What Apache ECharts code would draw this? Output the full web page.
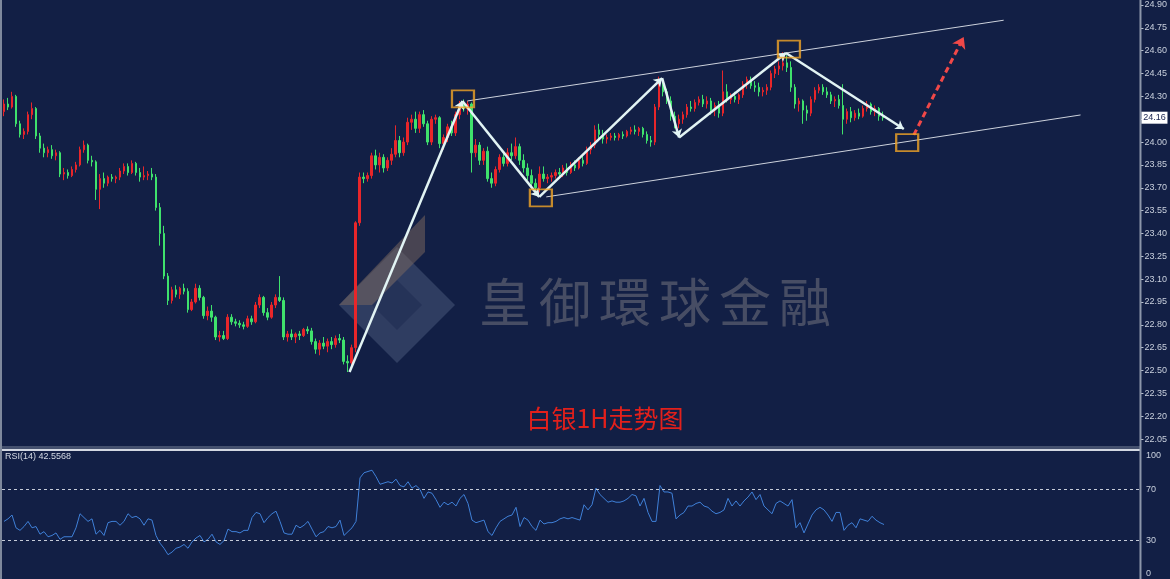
<!DOCTYPE html>
<html><head><meta charset="utf-8">
<script src="https://cdn.jsdelivr.net/npm/echarts@6/dist/echarts.min.js"></script>
<style>html,body{margin:0;padding:0;background:#121f45;}#c{width:1170px;height:579px;}</style>
</head><body><div id="c"></div>
<script>
// ---- data: each candle = [open, close, low, high] ----
const candles = [
[24.20,24.25,24.17,24.28],[24.25,24.23,24.21,24.29],[24.23,24.30,24.22,24.33],[24.30,24.12,24.10,24.31],[24.12,24.05,24.03,24.14],
[24.05,24.07,24.02,24.09],[24.07,24.18,24.05,24.20],[24.18,24.22,24.15,24.26],[24.22,24.04,24.02,24.23],[24.04,23.96,23.93,24.06],
[23.96,23.93,23.90,23.99],[23.93,23.95,23.90,23.97],[23.95,23.91,23.89,23.98],[23.91,23.93,23.88,23.95],[23.93,23.79,23.77,23.94],
[23.79,23.80,23.75,23.83],[23.80,23.78,23.76,23.82],[23.78,23.82,23.77,23.84],[23.82,23.85,23.80,23.87],[23.85,23.95,23.84,23.97],
[23.95,23.98,23.93,24.01],[23.98,23.88,23.86,23.99],[23.88,23.87,23.84,23.91],[23.87,23.69,23.62,23.88],[23.69,23.76,23.56,23.79],
[23.76,23.73,23.70,23.80],[23.73,23.77,23.71,23.78],[23.77,23.76,23.74,23.79],[23.76,23.77,23.73,23.78],[23.77,23.81,23.75,23.83],
[23.81,23.84,23.79,23.86],[23.84,23.80,23.78,23.86],[23.80,23.86,23.79,23.88],[23.86,23.80,23.78,23.87],[23.80,23.77,23.74,23.83],
[23.77,23.78,23.75,23.84],[23.78,23.79,23.75,23.81],[23.79,23.77,23.75,23.83],[23.77,23.57,23.55,23.79],[23.57,23.40,23.32,23.60],
[23.40,23.12,23.10,23.45],[23.12,22.96,22.93,23.14],[22.96,23.03,22.94,23.05],[23.03,23.00,22.98,23.06],[23.00,23.04,22.97,23.05],
[23.04,23.02,23.00,23.07],[23.02,22.90,22.88,23.04],[22.90,22.95,22.89,22.97],[22.95,23.04,22.94,23.07],[23.04,22.98,22.96,23.06],
[22.98,22.86,22.84,22.99],[22.86,22.89,22.83,22.92],[22.89,22.85,22.82,22.93],[22.85,22.72,22.70,22.86],[22.72,22.73,22.69,22.76],
[22.73,22.71,22.70,22.76],[22.71,22.85,22.70,22.87],[22.85,22.82,22.80,22.87],[22.82,22.81,22.79,22.84],[22.81,22.80,22.78,22.83],
[22.80,22.79,22.77,22.82],[22.79,22.84,22.78,22.86],[22.84,22.82,22.80,22.86],[22.82,22.93,22.81,22.95],[22.93,22.98,22.91,23.00],
[22.98,22.88,22.86,22.99],[22.88,22.85,22.83,22.91],[22.85,22.93,22.84,22.95],[22.93,22.98,22.91,23.00],[22.98,22.96,22.95,23.12],
[22.96,22.72,22.70,22.98],[22.72,22.74,22.69,22.76],[22.74,22.72,22.70,22.77],[22.72,22.74,22.68,22.75],[22.74,22.73,22.70,22.76],
[22.73,22.77,22.72,22.78],[22.77,22.76,22.74,22.79],[22.76,22.69,22.67,22.78],[22.69,22.64,22.61,22.71],[22.64,22.68,22.60,22.70],
[22.68,22.66,22.64,22.72],[22.66,22.69,22.62,22.71],[22.69,22.67,22.64,22.72],[22.67,22.71,22.65,22.73],[22.71,22.70,22.68,22.74],
[22.70,22.56,22.54,22.72],[22.56,22.55,22.49,22.60],[22.55,22.65,22.53,22.67],[22.65,23.47,22.62,23.48],[23.47,23.77,23.45,23.80],
[23.77,23.76,23.73,23.80],[23.76,23.78,23.74,23.80],[23.78,23.91,23.76,23.93],[23.91,23.85,23.82,23.95],[23.85,23.90,23.80,23.93],
[23.90,23.83,23.80,23.92],[23.83,23.88,23.81,23.90],[23.88,23.92,23.85,23.96],[23.92,24.01,23.90,24.11],[24.01,23.93,23.90,24.04],
[23.93,24.00,23.91,24.03],[24.00,24.13,23.98,24.16],[24.13,24.15,24.08,24.18],[24.15,24.09,24.06,24.20],[24.09,24.18,24.06,24.20],
[24.18,24.12,24.10,24.21],[24.12,24.00,23.98,24.14],[24.00,24.15,23.98,24.17],[24.15,24.16,24.12,24.18],[24.16,23.99,23.96,24.17],
[23.99,24.03,23.95,24.05],[24.03,24.10,24.00,24.12],[24.10,24.06,24.04,24.14],[24.06,24.18,24.04,24.20],[24.18,24.24,24.15,24.27],
[24.24,24.22,24.20,24.28],[24.22,24.25,24.18,24.27],[24.25,23.93,23.80,24.26],[23.93,23.98,23.90,24.02],[23.98,23.88,23.85,24.00],
[23.88,23.94,23.85,23.96],[23.94,23.76,23.74,23.97],[23.76,23.73,23.70,23.80],[23.73,23.82,23.71,23.84],[23.82,23.90,23.80,23.92],
[23.90,23.86,23.84,23.93],[23.86,23.93,23.84,23.96],[23.93,23.91,23.88,23.99],[23.91,23.97,23.89,24.03],[23.97,23.88,23.85,23.99],
[23.88,23.83,23.80,23.92],[23.83,23.78,23.75,23.86],[23.78,23.73,23.70,23.82],[23.73,23.70,23.66,23.76],[23.70,23.79,23.67,23.84],
[23.79,23.76,23.74,23.84],[23.76,23.77,23.73,23.79],[23.77,23.78,23.74,23.80],[23.78,23.80,23.76,23.82],[23.80,23.79,23.77,23.83],
[23.79,23.83,23.77,23.85],[23.83,23.80,23.78,23.86],[23.80,23.85,23.79,23.87],[23.85,23.83,23.81,23.88],[23.83,23.88,23.82,23.90],
[23.88,23.86,23.84,23.91],[23.86,23.95,23.85,23.97],[23.95,23.98,23.92,24.00],[23.98,24.08,23.96,24.11],[24.08,24.05,24.02,24.12],
[24.05,24.02,23.99,24.08],[24.02,24.03,23.99,24.05],[24.03,24.04,24.01,24.06],[24.04,24.03,24.01,24.06],[24.03,24.05,24.01,24.06],
[24.05,24.04,24.02,24.07],[24.04,24.07,24.03,24.08],[24.07,24.08,24.05,24.10],[24.08,24.07,24.05,24.11],[24.07,24.09,24.04,24.10],
[24.09,24.05,24.03,24.10],[24.05,24.01,23.99,24.07],[24.01,24.00,23.97,24.04],[24.00,24.23,23.98,24.25],[24.23,24.38,24.21,24.43],
[24.38,24.33,24.30,24.40],[24.33,24.27,24.25,24.35],[24.27,24.17,24.14,24.30],[24.17,24.12,24.09,24.20],[24.12,24.15,24.09,24.18],
[24.15,24.18,24.12,24.20],[24.18,24.23,24.16,24.25],[24.23,24.22,24.20,24.27],[24.22,24.26,24.20,24.28],[24.26,24.28,24.24,24.30],
[24.28,24.25,24.23,24.31],[24.25,24.27,24.22,24.30],[24.27,24.21,24.18,24.29],[24.21,24.24,24.17,24.26],[24.24,24.19,24.16,24.27],
[24.19,24.33,24.17,24.47],[24.33,24.28,24.26,24.38],[24.28,24.30,24.25,24.32],[24.30,24.28,24.26,24.33],[24.28,24.31,24.25,24.32],
[24.31,24.38,24.29,24.40],[24.38,24.41,24.35,24.43],[24.41,24.37,24.35,24.43],[24.37,24.36,24.33,24.40],[24.36,24.33,24.30,24.39],
[24.33,24.34,24.30,24.36],[24.34,24.36,24.31,24.38],[24.36,24.45,24.34,24.47],[24.45,24.48,24.42,24.50],[24.48,24.50,24.44,24.53],
[24.50,24.52,24.47,24.59],[24.52,24.49,24.46,24.57],[24.49,24.36,24.33,24.53],[24.36,24.25,24.22,24.38],[24.25,24.27,24.20,24.29],
[24.27,24.21,24.12,24.28],[24.21,24.19,24.14,24.24],[24.19,24.28,24.17,24.30],[24.28,24.34,24.26,24.36],[24.34,24.36,24.32,24.38],
[24.36,24.33,24.31,24.38],[24.33,24.31,24.29,24.36],[24.31,24.27,24.25,24.33],[24.27,24.28,24.23,24.30],[24.28,24.24,24.22,24.31],
[24.24,24.15,24.05,24.38],[24.15,24.20,24.12,24.22],[24.20,24.16,24.13,24.23],[24.16,24.19,24.14,24.21],[24.19,24.17,24.15,24.22],
[24.17,24.22,24.16,24.24],[24.22,24.25,24.20,24.27],[24.25,24.20,24.18,24.26],[24.20,24.22,24.17,24.24],[24.22,24.17,24.14,24.23],
[24.17,24.16,24.14,24.20]
];
const rsi = [
45,47,50,40,38,41,45,40,41,35,37,33,34,36,31,33,33,33,40,51,
48,45,47,35,38,34,44,45,45,42,45,51,48,49,47,42,47,46,34,28,
24,19,21,24,25,27,24,29,32,34,29,31,35,29,27,30,39,37,37,36,
38,38,48,52,51,44,48,51,53,45,36,35,35,42,40,42,45,39,33,36,
37,41,40,41,46,34,37,40,45,79,83,84,85,80,74,75,76,75,78,73,
72,76,71,73,70,63,68,67,62,56,60,58,60,57,63,66,59,46,44,45,
46,37,34,40,45,47,49,50,56,41,48,46,41,38,46,43,44,44,45,47,
48,47,48,47,46,58,54,58,71,66,63,60,61,60,60,61,63,66,65,57,
63,52,45,45,73,68,68,67,47,50,52,57,57,59,60,57,56,53,51,52,
54,63,57,61,57,61,64,68,62,66,57,54,51,59,61,59,57,62,40,44,
36,43,50,54,56,54,50,45,52,52,38,42,44,40,47,46,45,49,46,44,
42.5568
];
const slotCount = 285;                       // bar slots across the main panel
const priceAxis = {min: 21.90, max: 24.9328, step: 0.15};
const rsiTickLabels = [0, 30, 70, 100];
const rsiLevels = [70, 30];
// annotation points in data space: [bar index, price]
const zigzag = [[86.5,22.49],[114.75,24.27],[134,23.64],[164.75,24.42],[169,24.03],[195.75,24.585],[225.25,24.086]];
const channelUpper = [[116,24.27],[250.25,24.80]];
const channelLower = [[135.75,23.64],[269.5,24.178]];
const forecast = [[227.75,24.047],[240.25,24.69]];
const boxes = [[114.9,24.283],[134.4,23.633],[196.5,24.611],[226.1,23.997]];
const titleText = '白银1H走势图';
const rsiTitle = 'RSI(14) 42.5568';
const watermarkText = '皇御環球金融';

const BG = '#121f45';
const UP = '#e8262a', DOWN = '#3fe26c';
const cats = Array.from({length: slotCount}, (_, i) => String(i));
const chart = echarts.init(document.getElementById('c'), null, {renderer: 'canvas'});

const zigSegs = [];
for (let k = 0; k + 1 < zigzag.length; k++) zigSegs.push({coords: [zigzag[k], zigzag[k + 1]]});

chart.setOption({
  backgroundColor: BG,
  animation: false,
  grid: [
    {left: 2, right: 28, top: 0, bottom: 117.1},
    {left: 2, right: 28, top: 451, bottom: 0}
  ],
  xAxis: [
    {type: 'category', gridIndex: 0, data: cats, boundaryGap: true, show: false},
    {type: 'category', gridIndex: 1, data: cats, boundaryGap: true, show: false},
    {type: 'value', gridIndex: 0, min: -0.5, max: slotCount - 0.5, show: false}
  ],
  yAxis: [
    {type: 'value', gridIndex: 0, position: 'right', min: priceAxis.min, max: priceAxis.max, interval: priceAxis.step,
     axisLine: {show: false, onZero: false}, splitLine: {show: false},
     axisTick: {show: true, length: 3, lineStyle: {color: '#b9c1d0'}},
     axisLabel: {color: '#c9d0dd', fontSize: 9, fontFamily: 'Liberation Sans', margin: 4,
                 showMinLabel: false, showMaxLabel: false, formatter: v => v.toFixed(2)}},
    {type: 'value', gridIndex: 1, position: 'right', min: 0, max: 100, interval: 10,
     axisLine: {show: false, onZero: false}, splitLine: {show: false}, axisTick: {show: false},
     axisLabel: {color: '#c9d0dd', fontSize: 9, fontFamily: 'Liberation Sans', margin: 4,
                 formatter: v => {
                   const r = Math.round(v);
                   if (!rsiTickLabels.includes(r)) return '';
                   if (r === 100) return '{t|' + r + '}';
                   if (r === 0) return '{b|' + r + '}';
                   return String(r);
                 },
                 rich: {t: {padding: [10, 0, 0, 0], fontSize: 9, color: '#c9d0dd'},
                        b: {padding: [0, 0, 10, 0], fontSize: 9, color: '#c9d0dd'}}}}
  ],
  series: [
    {type: 'candlestick', xAxisIndex: 0, yAxisIndex: 0, data: candles, barWidth: 2,
     itemStyle: {color: UP, color0: DOWN, borderColor: UP, borderColor0: DOWN, borderWidth: 1}, z: 3},
    {type: 'lines', coordinateSystem: 'cartesian2d', xAxisIndex: 2, yAxisIndex: 0, z: 4,
     lineStyle: {color: '#cdd2dc', width: 1, opacity: 1},
     data: [{coords: channelUpper}, {coords: channelLower}]},
    {type: 'lines', coordinateSystem: 'cartesian2d', xAxisIndex: 2, yAxisIndex: 0, z: 5,
     symbol: ['none', 'arrow'], symbolSize: 8,
     lineStyle: {color: '#e2f4f4', width: 2.5, opacity: 1}, data: zigSegs},
    {type: 'lines', coordinateSystem: 'cartesian2d', xAxisIndex: 2, yAxisIndex: 0, z: 5,
     symbol: ['none', 'arrow'], symbolSize: 11,
     lineStyle: {color: '#f04848', width: 3, type: [6, 4], opacity: 1}, data: [{coords: forecast}]},
    {type: 'scatter', xAxisIndex: 2, yAxisIndex: 0, z: 6, symbol: 'rect', symbolSize: [22, 17],
     itemStyle: {color: 'rgba(0,0,0,0)', borderColor: '#f2a526', borderWidth: 2}, data: boxes},
    {type: 'line', xAxisIndex: 1, yAxisIndex: 1, data: rsi, showSymbol: false, symbol: 'none',
     lineStyle: {color: '#3f80d8', width: 1},
     markLine: {silent: true, symbol: 'none', label: {show: false},
                lineStyle: {color: '#c5cbd8', type: [3, 3], width: 1},
                data: rsiLevels.map(v => ({yAxis: v}))}}
  ]
});

// decorations + current price tag
const lastClose = candles[candles.length - 1][1];
const tagY = chart.convertToPixel({yAxisIndex: 0}, lastClose);
const axisX = chart.convertToPixel({xAxisIndex: 2}, slotCount - 0.5);
const g = [];
// watermark logo (decorative)
g.push({type: 'polygon', z: 1, shape: {points: [[339,305],[397,247],[455,305],[397,363]]}, style: {fill: 'rgba(95,110,145,0.38)'}});
g.push({type: 'polygon', z: 1, shape: {points: [[372,305],[397,280],[422,305],[397,330]]}, style: {fill: BG, opacity: 0.3}});
g.push({type: 'polygon', z: 1, shape: {points: [[339,305],[425,215],[425,252],[372,305]]}, style: {fill: 'rgba(125,105,95,0.50)'}});
const wmChars = watermarkText.split('');
wmChars.forEach((ch, k) => g.push({type: 'text', z: 1, style: {text: ch, x: 505 + k * 60, y: 302, align: 'center', verticalAlign: 'middle',
  fontSize: 52, fontFamily: 'Noto Sans CJK TC', fill: 'rgba(165,160,155,0.36)'}}));
// title
g.push({type: 'text', z: 20, style: {text: titleText, x: 605, y: 418, align: 'center', verticalAlign: 'middle',
  fontSize: 25, fontFamily: 'Noto Sans CJK SC', fill: '#e3201b'}});
// panel frames
g.push({type: 'rect', z: 20, shape: {x: 0, y: 446, width: axisX, height: 3}, style: {fill: '#44506e'}});
g.push({type: 'rect', z: 20, shape: {x: 0, y: 449, width: axisX, height: 2}, style: {fill: '#d3d8e2'}});
g.push({type: 'rect', z: 20, shape: {x: 0, y: 0, width: 2, height: 579}, style: {fill: '#7e889c'}});
g.push({type: 'rect', z: 20, shape: {x: axisX - 1, y: 0, width: 2, height: 579}, style: {fill: '#8c96aa'}});
// RSI header
g.push({type: 'text', z: 20, style: {text: rsiTitle, x: 5, y: 452, fontSize: 9, fontFamily: 'Liberation Sans', fill: '#d4dae4'}});
// current price tag
g.push({type: 'rect', z: 21, shape: {x: axisX + 1, y: tagY - 6, width: 26, height: 12}, style: {fill: '#ffffff'}});
g.push({type: 'text', z: 22, style: {text: lastClose.toFixed(2), x: axisX + 14, y: tagY, align: 'center', verticalAlign: 'middle',
  fontSize: 9, fontFamily: 'Liberation Sans', fill: '#1a2550'}});
chart.setOption({graphic: g});
</script></body></html>
